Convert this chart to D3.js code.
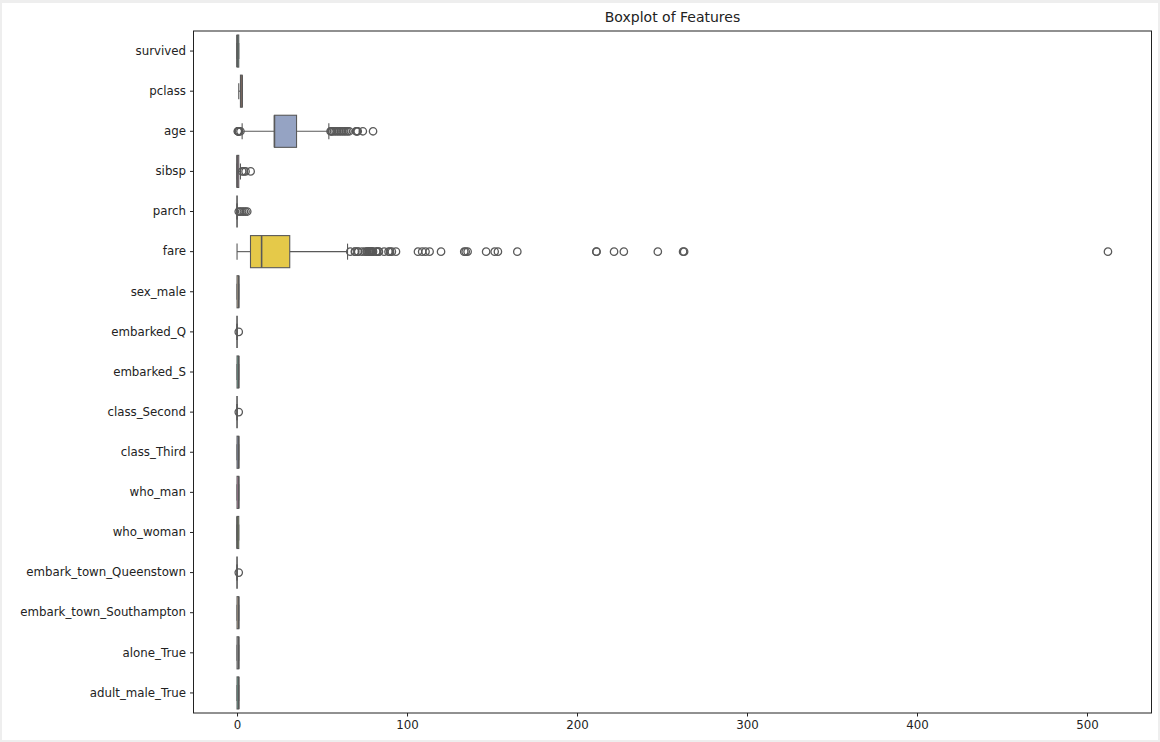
<!DOCTYPE html>
<html>

<head>
    <meta charset='utf-8'>
    <title>Boxplot of Features</title>
    <script type='text/javascript' src='https://cdn.jsdelivr.net/npm/d3@7'></script>
    <style>
        body { margin: 0; background: #ffffff; }
        text { font-family: 'DejaVu Sans', sans-serif; }
    </style>
</head>

<body>
    <svg width='1160' height='742'></svg>
    <script type='text/javascript'>

        // titanic features (one-hot encoded), box statistics
        const features = ['survived', 'pclass', 'age', 'sibsp', 'parch', 'fare', 'sex_male', 'embarked_Q',
            'embarked_S', 'class_Second', 'class_Third', 'who_man', 'who_woman', 'embark_town_Queenstown',
            'embark_town_Southampton', 'alone_True', 'adult_male_True']
        const q1 = [0, 2, 22, 0, 0, 7.91, 0, 0, 0, 0, 0, 0, 0, 0, 0, 0, 0]
        const medians = [0, 3, 22, 0, 0, 14.45, 1, 0, 1, 0, 1, 1, 0, 0, 1, 1, 1]
        const q3 = [1, 3, 35, 1, 0, 31, 1, 0, 1, 0, 1, 1, 1, 0, 1, 1, 1]
        const whiskerLo = [0, 1, 3, 0, 0, 0, 0, 0, 0, 0, 0, 0, 0, 0, 0, 0, 0]
        const whiskerHi = [1, 3, 54, 2, 0, 65, 1, 0, 1, 0, 1, 1, 1, 0, 1, 1, 1]
        const outliers = [
            [],
            [],
            [0.42, 0.67, 0.75, 0.83, 0.92, 1, 2, 55, 55.5, 56, 57, 58, 59, 60, 61, 62, 63, 64, 65, 66, 70, 70.5, 71, 74, 80],
            [3, 4, 5, 8],
            [1, 2, 3, 4, 5, 6],
            [66.6, 69.3, 69.55, 71, 71.28, 73.5, 75.25, 76.29, 76.73, 77.29, 77.96, 78.27, 78.85, 79.2, 79.65, 80,
                81.86, 82.17, 83.16, 83.48, 86.5, 89.1, 90, 91.08, 93.5, 106.43, 108.9, 110.88, 113.28, 120,
                133.65, 134.5, 135.63, 146.52, 151.55, 153.46, 164.87, 211.34, 211.5, 221.78, 227.53, 247.52,
                262.38, 263, 512.33],
            [],
            [1],
            [],
            [1],
            [],
            [],
            [],
            [1],
            [],
            [],
            []
        ]
        const xTicks = [0, 100, 200, 300, 400, 500]

        const svg = d3.select('svg')
        const margin = { top: 31, left: 193.5, bottom: 29, right: 8.5 }
        const width = 1160, height = 742
        const lineColor = '#595959'

        // thin grey frame round the figure
        svg.append('rect').attr('width', width).attr('height', height).attr('fill', '#eeeeee')
        svg.append('rect').attr('x', 2).attr('y', 3).attr('width', width - 4).attr('height', height - 5).attr('fill', '#ffffff')

        const allValues = [].concat(whiskerLo, whiskerHi, ...outliers)
        const lo = d3.min(allValues), hi = d3.max(allValues)
        const pad = (hi - lo) * 0.05

        const x = d3.scaleLinear().domain([lo - pad, hi + pad]).range([margin.left, width - margin.right])
        const y = d3.scaleBand().domain(features).range([margin.top, height - margin.bottom])

        // Set2 palette, desaturated like seaborn
        const colors = d3.scaleOrdinal(features, d3.schemeSet2.map(c => {
            const h = d3.hsl(c)
            h.s *= 0.75
            return h.formatHex()
        }))

        const boxH = y.bandwidth() * 0.8
        const capH = boxH * 0.5

        const groups = svg.append('g').selectAll('g').data(features).join('g')
            .attr('transform', d => `translate(0,${y(d) + y.bandwidth() / 2})`)

        // whiskers
        groups.append('line')
            .attr('x1', (d, i) => x(whiskerLo[i])).attr('x2', (d, i) => x(q1[i]))
            .attr('stroke', lineColor).attr('stroke-width', 1.1)
        groups.append('line')
            .attr('x1', (d, i) => x(q3[i])).attr('x2', (d, i) => x(whiskerHi[i]))
            .attr('stroke', lineColor).attr('stroke-width', 1.1)
        // caps
        groups.each(function (d, i) {
            const g = d3.select(this);
            [whiskerLo[i], whiskerHi[i]].forEach(v => {
                g.append('line')
                    .attr('x1', x(v)).attr('x2', x(v))
                    .attr('y1', -capH / 2).attr('y2', capH / 2)
                    .attr('stroke', lineColor).attr('stroke-width', 1.1)
            })
        })
        // boxes
        groups.append('rect')
            .attr('x', (d, i) => x(q1[i]))
            .attr('width', (d, i) => x(q3[i]) - x(q1[i]))
            .attr('y', -boxH / 2).attr('height', boxH)
            .attr('fill', d => colors(d))
            .attr('stroke', lineColor).attr('stroke-width', 1.1)
        // medians
        groups.append('line')
            .attr('x1', (d, i) => x(medians[i])).attr('x2', (d, i) => x(medians[i]))
            .attr('y1', -boxH / 2).attr('y2', boxH / 2)
            .attr('stroke', lineColor).attr('stroke-width', 1.6)
        // fliers
        groups.each(function (d, i) {
            d3.select(this).selectAll('circle').data(outliers[i]).join('circle')
                .attr('cx', v => x(v)).attr('cy', 0).attr('r', 3.7)
                .attr('fill', 'none').attr('stroke', lineColor).attr('stroke-width', 1.3)
        })

        // axes
        const xAxis = svg.append('g')
            .attr('transform', `translate(0,${height - margin.bottom})`)
            .call(d3.axisBottom(x).tickValues(xTicks).tickSize(3.5).tickPadding(4))
        const yAxis = svg.append('g')
            .attr('transform', `translate(${margin.left},0)`)
            .call(d3.axisLeft(y).tickSize(3.5).tickPadding(4))
        ;[xAxis, yAxis].forEach(a => {
            a.select('.domain').remove()
            a.selectAll('text').attr('font-size', 11.8).attr('fill', '#222').attr('font-family', 'DejaVu Sans, sans-serif')
            a.selectAll('line').attr('stroke', '#222')
        })

        // frame
        svg.append('rect')
            .attr('x', margin.left).attr('y', margin.top)
            .attr('width', width - margin.left - margin.right)
            .attr('height', height - margin.top - margin.bottom)
            .attr('fill', 'none').attr('stroke', '#222').attr('stroke-width', 1)

        svg.append('text')
            .attr('x', (margin.left + width - margin.right) / 2).attr('y', 22)
            .attr('text-anchor', 'middle').attr('font-size', 14).attr('fill', '#222')
            .text('Boxplot of Features')
    </script>
</body>

</html>
